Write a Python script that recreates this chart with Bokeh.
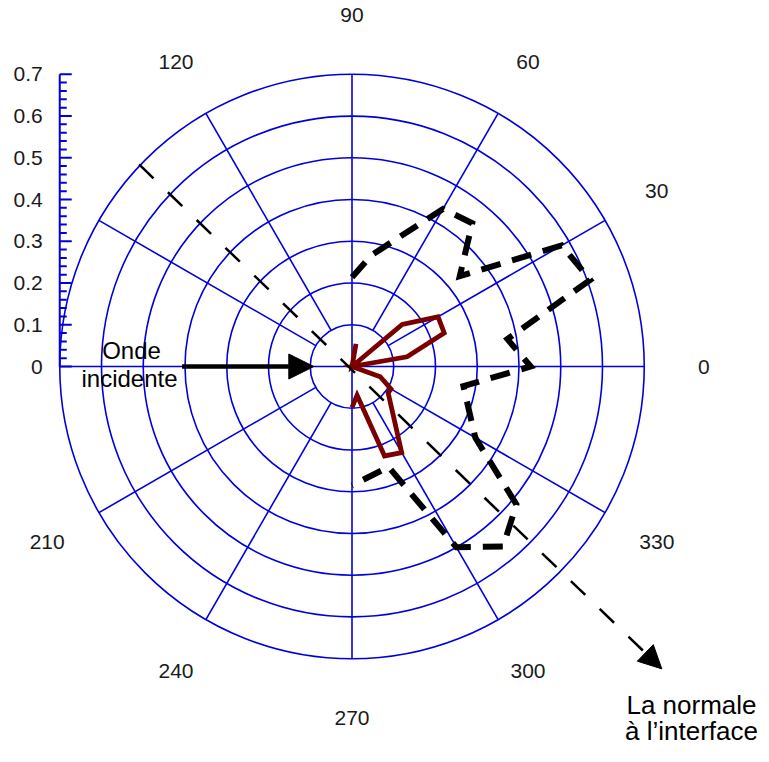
import numpy as np
from bokeh.plotting import figure
from bokeh.models import Range1d, Arrow, NormalHead, Label
from bokeh.core.properties import value
from bokeh.embed import file_html
from bokeh.resources import INLINE

# ---------------- data ----------------
# thick dashed black series (angle in degrees, radius)
black_theta = [90, 80, 60, 50, 40, 30, 20, 10, 0, -10, -30, -40, -50, -60, -70, -90]
black_r = [0.214, 0.271, 0.436, 0.448, 0.337, 0.580, 0.607, 0.378, 0.428, 0.271,
           0.341, 0.514, 0.563, 0.500, 0.256, 0.285]

# dark red series
red_theta = [80, 60, 40, 30, 20, 10, 0, -20, -30, -36, -60, -70, -80, -90]
red_r = [0.055, 0.0, 0.157, 0.238, 0.235, 0.134, 0.0, 0.072, 0.108, 0.107,
         0.238, 0.228, 0.070, 0.098]

# radial axis ticks and labels
radial_ticks = [0, 0.1, 0.2, 0.3, 0.4, 0.5, 0.6, 0.7]
radial_labels = ["0", "0.1", "0.2", "0.3", "0.4", "0.5", "0.6", "0.7"]
radial_minor_step = 0.02
grid_r = [0.1, 0.2, 0.3, 0.4, 0.5, 0.6, 0.7]
spoke_angles = [30, 60, 120, 150, 210, 240, 300, 330]
label_angles = [0, 30, 60, 90, 120, 210, 240, 270, 300, 330]
label_texts = ["0", "30", "60", "90", "120", "210", "240", "270", "300", "330"]

# annotation arrows (angle in degrees, radius)
normal_start = (136.5, 0.703)
normal_end = (-44.3, 1.037)
incident_start = (180, 0.407)
incident_end = (180, 0.0915)

# ---------------- layout ----------------
BLUE = "#0000DD"
FONT = "Liberation Sans"
TXT = "#1a1a1a"
K = 417.5              # px per unit radius
W, H = 761, 746
CX, CY = 351.5, 366.0  # centre of the polar plot, px from top-left

p = figure(width=W, height=H,
           x_range=Range1d(-CX / K, (W - CX) / K),
           y_range=Range1d(-(H - CY) / K, CY / K),
           output_backend="svg", toolbar_location=None,
           x_axis_location=None, y_axis_location=None,
           min_border_left=0, min_border_right=0, min_border_top=0, min_border_bottom=0,
           outline_line_color=None, background_fill_color="white",
           border_fill_color="white")
p.grid.visible = False


def pol(theta_deg, r):
    t = np.deg2rad(np.asarray(theta_deg, dtype=float))
    r = np.asarray(r, dtype=float)
    return r * np.cos(t), r * np.sin(t)


R_MAX = grid_r[-1]

# grid circles
n = len(grid_r)
p.arc(x=[0] * n, y=[0] * n, radius=grid_r, start_angle=[0] * n,
      end_angle=[2 * np.pi] * n, line_color=BLUE, line_width=1.6)

# spokes
sx0, sy0 = pol(spoke_angles, [grid_r[0]] * len(spoke_angles))
sx1, sy1 = pol(spoke_angles, [R_MAX] * len(spoke_angles))
p.segment(x0=sx0, y0=sy0, x1=sx1, y1=sy1, line_color=BLUE, line_width=1.6)
ax0, ay0 = pol([180, 270], [R_MAX] * 2)
ax1, ay1 = pol([0, 90], [R_MAX] * 2)
p.segment(x0=ax0, y0=ay0, x1=ax1, y1=ay1, line_color=BLUE, line_width=1.6)

# radial scale on the left (vertical axis at x = -R_MAX)
axis_x = -R_MAX
p.segment(x0=[axis_x], y0=[radial_ticks[0]], x1=[axis_x], y1=[radial_ticks[-1]],
          line_color=BLUE, line_width=2)
nminor = int(round(radial_ticks[-1] / radial_minor_step))
minor = [i * radial_minor_step for i in range(nminor + 1) if i % 5 != 0]
p.segment(x0=[axis_x] * len(radial_ticks), y0=radial_ticks,
          x1=[axis_x + 12 / K] * len(radial_ticks), y1=radial_ticks,
          line_color=BLUE, line_width=2)
p.segment(x0=[axis_x] * len(minor), y0=minor,
          x1=[axis_x + 7 / K] * len(minor), y1=minor,
          line_color=BLUE, line_width=2)
p.text(x=[axis_x - 17 / K] * len(radial_ticks), y=radial_ticks, text=radial_labels,
       text_align="right", text_baseline="middle",
       text_font=value(FONT), text_font_size=value("21px"), text_color=TXT)

# series
rx, ry = pol(red_theta, red_r)
p.line(rx, ry, line_color="#7A0000", line_width=4.8, line_join="miter")
bx, by = pol(black_theta, black_r)
p.line(bx, by, line_color="black", line_width=6, line_dash="20 12",
       line_join="miter", line_cap="butt")

# angle labels
lx, ly = pol(label_angles, [0.843] * len(label_angles))
p.text(x=lx, y=ly, text=label_texts, text_align="center", text_baseline="middle",
       text_font=value(FONT), text_font_size=value("21px"), text_color=TXT)

# normal to interface (dashed arrow)
nx0, ny0 = pol([normal_start[0]], [normal_start[1]])
nx1, ny1 = pol([normal_end[0]], [normal_end[1]])
p.add_layout(Arrow(end=NormalHead(size=23, fill_color="black", line_color="black"),
                   x_start=float(nx0[0]), y_start=float(ny0[0]),
                   x_end=float(nx1[0]), y_end=float(ny1[0]),
                   line_color="black", line_width=2.5, line_dash="20 20"))

# incident wave arrow
ix0, iy0 = pol([incident_start[0]], [incident_start[1]])
ix1, iy1 = pol([incident_end[0]], [incident_end[1]])
p.add_layout(Arrow(end=NormalHead(size=25, fill_color="black", line_color="black"),
                   x_start=float(ix0[0]), y_start=float(iy0[0]),
                   x_end=float(ix1[0]), y_end=float(iy1[0]),
                   line_color="black", line_width=4.5))


# texts (vertical centres given in px from the top-left corner)
def px_x(X):
    return (X - CX) / K


def px_y(Y):
    return (CY - Y) / K


def add_text(x, y, text, size):
    p.add_layout(Label(x=px_x(x), y=px_y(y), text=text, text_align="center",
                       text_baseline="middle", text_font=FONT, text_font_size=size,
                       text_color="black"))


add_text(131, 350, "Onde", "24px")
add_text(129, 378, "incidente", "24px")
add_text(691, 704, "La normale", "26px")
add_text(691, 730, "à l’interface", "26px")

open("out.html", "w").write(file_html(p, INLINE))
